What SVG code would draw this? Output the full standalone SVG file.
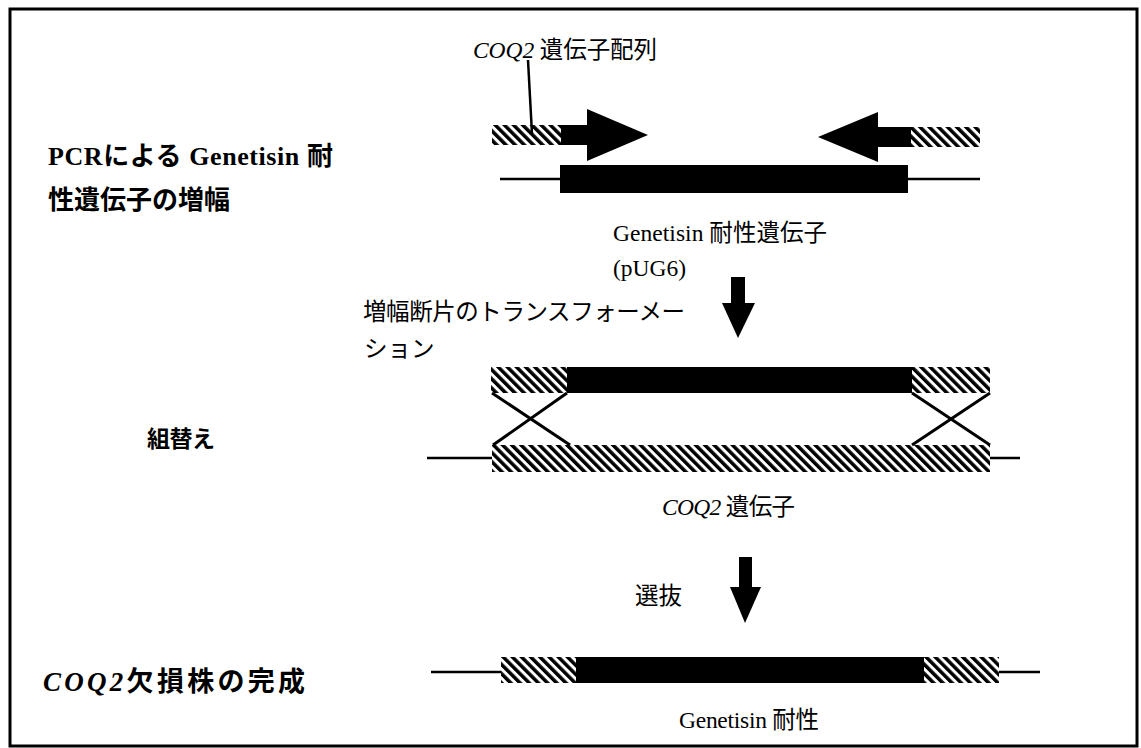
<svg xmlns="http://www.w3.org/2000/svg" width="1141" height="748" viewBox="0 0 1141 748">
<style>
.t{font-family:"Liberation Serif",serif;font-size:23.5px;fill:#000}
.b{font-family:"Liberation Serif",serif;font-size:26px;font-weight:bold;fill:#000}
.jp{font-family:"Noto Sans CJK JP","Noto Sans CJK SC",sans-serif}
.lat{font-family:"Liberation Serif",serif}
.i{font-style:italic}
.hatch{fill:url(#hatch)}
.solid{fill:#000}
.ln{stroke:#000;stroke-width:2.5;fill:none}
.cross{stroke:#000;stroke-width:3;fill:none}
</style>
<defs>
<pattern id="hatch" patternUnits="userSpaceOnUse" width="6.5" height="6.5" patternTransform="rotate(-45)">
<rect x="0" y="0" width="6.5" height="6.5" fill="#fff"/>
<rect x="0" y="0" width="3.5" height="6.5" fill="#000"/>
</pattern>
</defs>
<rect x="0" y="0" width="1141" height="748" fill="#fff"/>
<rect id="frame" x="10" y="9" width="1127" height="737" fill="none" stroke="#000" stroke-width="3"/>

<g id="label-coq2-seq"><text class="t" x="473" y="58" textLength="184" lengthAdjust="spacing"><tspan class="lat i">COQ2 </tspan><tspan class="jp">遺伝子配列</tspan></text></g>

<g id="pcr-construct">
<line class="ln" x1="500" y1="179" x2="980" y2="179"/>
<rect class="solid" x="560" y="165" width="348" height="28"/>
<rect class="hatch" x="492" y="125" width="70" height="20"/>
<rect class="solid" x="561" y="125" width="27" height="20"/>
<polygon class="solid" points="587,109 648,135 587,161"/>
<rect class="hatch" x="910" y="127" width="70" height="20"/>
<rect class="solid" x="877" y="127" width="34" height="20"/>
<polygon class="solid" points="878,112 818,137 878,162"/>
</g>

<g id="label-pcr">
<text class="b" x="48" y="165" textLength="285" lengthAdjust="spacing"><tspan class="lat">PCR</tspan><tspan class="jp">による</tspan><tspan class="lat"> Genetisin </tspan><tspan class="jp">耐</tspan></text>
<text class="b jp" x="48" y="209">性遺伝子の増幅</text>
</g>

<g id="label-genetisin-gene">
<text class="t" x="613" y="241" textLength="214" lengthAdjust="spacing"><tspan class="lat">Genetisin </tspan><tspan class="jp">耐性遺伝子</tspan></text>
<text class="t" x="613" y="276">(pUG6)</text>
</g>

<g id="label-transform">
<text class="t jp" x="363" y="320" textLength="322" lengthAdjust="spacing">増幅断片のトランスフォーメー</text>
<text class="t jp" x="364" y="357">ション</text>
</g>

<g id="recombination">
<line class="ln" x1="427" y1="458" x2="1020" y2="458"/>
<rect class="hatch" x="491" y="367" width="77" height="26"/>
<rect class="solid" x="567" y="367" width="345" height="26"/>
<rect class="hatch" x="912" y="367" width="78" height="26"/>
<rect class="hatch" x="492" y="445" width="498" height="27"/>
</g>

<g id="label-recomb"><text class="b jp" x="147" y="447" textLength="68" lengthAdjust="spacing" style="font-size:23px">組替え</text></g>

<g id="label-coq2-gene"><text class="t" x="662" y="515" textLength="133" lengthAdjust="spacing"><tspan class="lat i">COQ2 </tspan><tspan class="jp">遺伝子</tspan></text></g>

<g id="label-select"><text class="t jp" x="635" y="604">選抜</text></g>

<g id="final-construct">
<line class="ln" x1="431" y1="672" x2="1040" y2="672"/>
<rect class="hatch" x="501" y="657" width="76" height="26"/>
<rect class="solid" x="576" y="657" width="348" height="26"/>
<rect class="hatch" x="924" y="657" width="75" height="26"/>
</g>

<g id="label-final"><text class="b" x="43" y="691" textLength="262" lengthAdjust="spacing" style="font-size:27px"><tspan class="lat i">COQ2</tspan><tspan class="jp">欠損株の完成</tspan></text></g>

<g id="label-resistance"><text class="t" x="679" y="728" textLength="140" lengthAdjust="spacing"><tspan class="lat">Genetisin </tspan><tspan class="jp">耐性</tspan></text></g>

<g id="connectors">
<line class="ln" x1="528" y1="60" x2="532" y2="134"/>
<rect class="solid" x="731" y="277" width="14" height="28"/>
<polygon class="solid" points="722,303 755,303 738,338"/>
<rect class="solid" x="739" y="557" width="13" height="31"/>
<polygon class="solid" points="730,587 761,587 745,623"/>
<line class="cross" x1="492" y1="393" x2="570" y2="445"/>
<line class="cross" x1="567" y1="393" x2="493" y2="445"/>
<line class="cross" x1="912" y1="393" x2="990" y2="445"/>
<line class="cross" x1="990" y1="393" x2="912" y2="445"/>
</g>
</svg>
